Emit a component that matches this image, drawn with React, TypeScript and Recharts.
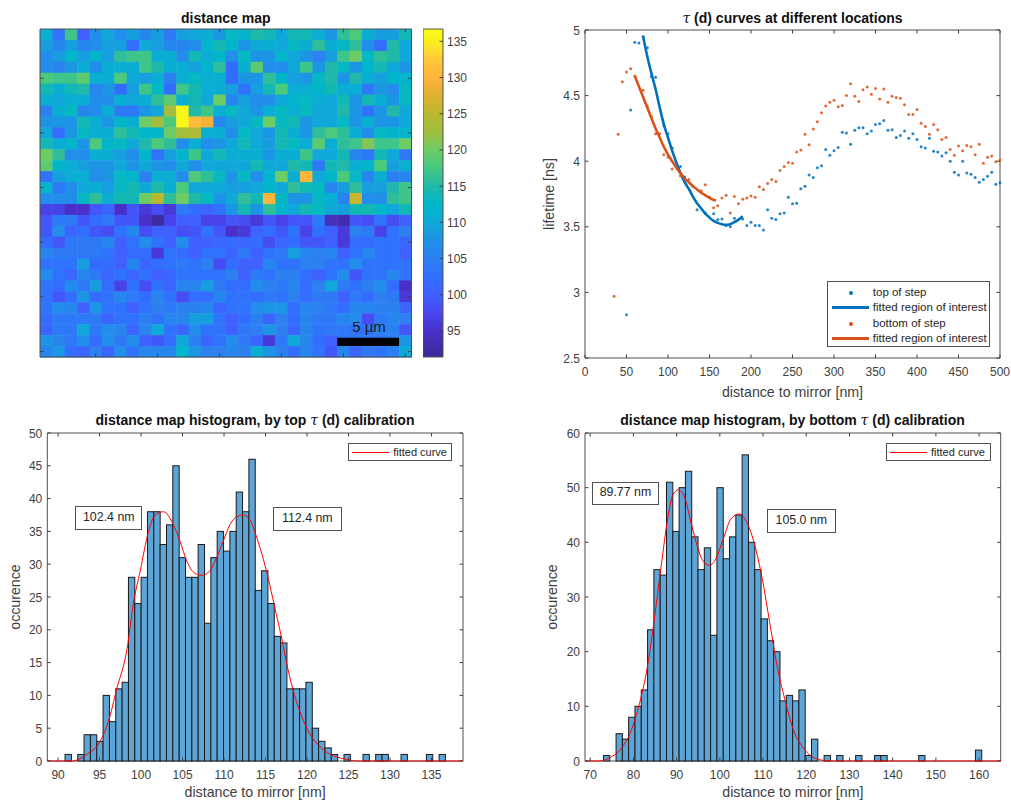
import React from 'react';
import { ComposedChart, ScatterChart, Scatter, Bar, Line, XAxis, YAxis, ReferenceArea } from 'recharts';

// distance map, one row per line of pixels, top to bottom
const mapRows = [
  [111,103,117,100,107,110,107,109,106,109,104,109,110,111,108,113,112,115,114,110,114,114,111,108,116,118,111,109,109,114],
  [109,106,109,106,107,109,109,102,110,109,106,106,107,112,114,112,108,110,111,110,113,111,116,111,113,116,107,102,115,110],
  [107,109,112,109,112,109,116,117,117,111,111,107,114,111,112,107,113,108,108,112,110,108,105,109,117,120,113,116,115,110],
  [107,106,108,111,107,111,111,111,117,115,111,111,109,112,116,102,111,119,107,107,110,117,108,115,113,108,112,114,110,108],
  [118,117,117,119,111,111,118,110,109,111,105,111,113,111,111,102,108,108,116,112,109,108,113,115,108,115,111,109,112,112],
  [114,111,114,115,106,108,102,109,117,113,102,117,114,111,111,109,103,109,114,118,111,111,112,114,111,111,104,108,107,113],
  [111,110,111,111,107,107,111,110,111,116,119,111,114,110,120,106,109,107,107,110,112,113,111,110,114,108,114,111,108,113],
  [105,111,113,106,107,111,104,104,108,110,123,136,115,117,111,113,110,108,111,113,111,113,110,110,115,108,103,108,115,110],
  [108,108,108,114,111,108,112,111,120,123,118,136,131,129,106,109,110,113,120,113,114,108,110,110,113,108,111,108,108,110],
  [110,102,108,113,111,111,116,114,112,112,120,123,124,111,111,107,113,110,108,114,111,108,116,118,116,111,107,113,112,112],
  [114,111,112,108,118,112,113,110,115,118,116,107,111,107,108,110,114,110,109,114,113,111,119,111,116,117,121,117,117,120],
  [120,116,107,107,111,111,109,107,112,103,109,112,117,110,114,111,111,111,108,111,111,117,110,110,114,106,104,114,110,104],
  [119,112,111,109,108,108,110,108,110,108,107,110,107,110,110,110,110,114,110,110,115,114,104,114,115,111,112,118,109,111],
  [103,109,111,111,107,108,113,112,105,111,111,107,118,116,113,108,113,107,112,120,111,130,110,112,118,113,106,111,105,106],
  [112,104,107,110,111,109,113,114,110,115,111,118,110,110,110,109,109,110,112,110,116,114,113,106,109,116,109,109,115,117],
  [107,107,107,113,116,111,114,114,120,125,116,120,115,113,108,110,116,114,130,113,108,108,113,111,106,126,107,107,116,117],
  [97,97,95,95,99,101,95,99,96,98,96,104,102,101,103,108,114,108,116,112,110,114,113,110,109,114,114,112,110,114],
  [99,104,104,99,102,104,99,99,95,92,97,100,100,97,97,99,98,96,99,97,99,99,104,94,93,99,98,103,98,100],
  [99,107,101,102,99,98,103,106,98,100,100,98,99,103,99,95,96,101,102,99,103,97,103,100,96,105,104,97,103,105],
  [102,99,104,104,104,106,100,103,107,103,100,107,100,100,101,102,101,102,98,101,102,99,99,100,96,102,102,103,103,101],
  [106,104,104,104,104,103,100,102,102,96,103,102,100,103,103,101,104,100,103,104,109,106,105,106,100,103,106,103,103,100],
  [103,103,103,109,102,102,100,106,101,102,103,104,103,105,98,102,100,100,106,103,103,105,105,103,103,107,103,103,103,103],
  [107,103,101,106,104,101,103,101,103,100,101,103,103,103,103,105,100,104,103,105,105,102,100,103,107,99,103,103,106,103],
  [103,102,107,104,109,102,97,103,98,103,101,106,106,109,104,102,102,107,105,104,106,102,105,110,104,103,105,107,102,95],
  [103,99,102,108,102,103,106,104,102,106,103,98,102,102,106,103,103,102,104,103,105,102,104,104,100,104,102,105,104,96],
  [103,107,106,100,108,103,103,100,103,105,104,105,105,106,101,103,103,107,108,108,102,106,105,104,102,106,106,105,105,101],
  [102,104,104,104,104,101,103,103,105,103,106,106,109,109,103,100,102,105,101,105,102,106,104,104,106,107,98,104,106,105],
  [101,104,104,110,104,107,106,101,106,110,103,101,107,103,103,100,104,105,108,105,101,106,103,104,104,103,103,105,105,99],
  [108,106,104,107,102,107,104,107,100,99,102,110,105,101,103,107,104,101,96,104,110,106,102,100,103,103,104,103,104,108],
  [106,108,102,101,105,101,107,103,106,106,106,112,108,105,105,106,105,111,108,105,102,106,103,99,106,101,104,103,105,110],
];

// colormap
const colorLevels = [91.4, 95, 97.5, 100, 102.5, 105, 107.5, 110, 112.5, 115, 117.5, 120, 122.5, 125, 127.5, 130, 132.5, 135, 136.7];
const colorHex = ['#3c2b98', '#4830c8', '#4848f0', '#4060ff', '#3070ff', '#2c80f0', '#2090e8', '#10a8d8', '#00b8c8', '#20b8a8', '#45c882', '#6ecc64', '#a0be40', '#b9b92f', '#e0b030', '#ffb43c', '#ffc83a', '#f8f01e', '#f9fb15'];
const colorbarTicks = [95, 100, 105, 110, 115, 120, 125, 130, 135];
const mapTicks = [5, 10, 15, 20, 25, 30];

// lifetime curves
const topX = [50,55,60,65,70,75,80,85,95,100,105,115,120,135,145,155,160,165,170,175,180,190,195,200,205,210,215,220,225,230,235,240,245,250,255,260,265,270,275,280,285,290,295,300,305,310,315,320,325,330,335,340,345,350,355,360,365,370,375,380,385,390,395,400,405,410,415,420,425,430,435,440,445,450,455,460,465,470,475,480,485,490,495,500];
const topY = [2.83,4.39,4.906,4.9,4.95,4.865,4.645,4.64,4.27,4.21,4.1,3.96,3.88,3.63,3.605,3.6,3.555,3.56,3.51,3.5,3.565,3.56,3.51,3.535,3.51,3.51,3.475,3.63,3.565,3.555,3.6,3.605,3.725,3.675,3.68,3.79,3.81,3.895,3.875,3.95,3.965,4.09,4.045,4.08,4.105,4.22,4.215,4.13,4.235,4.255,4.255,4.21,4.23,4.28,4.285,4.31,4.235,4.24,4.18,4.195,4.23,4.175,4.21,4.165,4.11,4.1,4.175,4.075,4.07,4.04,4.065,4,3.915,3.895,4,3.91,3.9,3.875,3.84,3.86,3.885,3.915,3.825,3.835];
const bottomX = [35,40,45,50,55,60,70,75,80,85,90,95,100,105,115,120,125,130,140,145,150,155,160,165,170,175,180,185,190,195,200,205,210,215,220,225,230,235,240,245,250,255,260,265,270,275,280,285,290,295,300,305,310,315,320,325,330,335,340,345,350,355,360,365,370,375,380,385,390,395,400,405,410,415,420,425,430,435,440,445,450,455,460,465,470,475,480,485,490,495,500];
const bottomY = [2.97,4.205,4.605,4.68,4.705,4.65,4.54,4.42,4.34,4.21,4.21,4.05,4.03,3.94,3.89,3.87,3.86,3.81,3.775,3.82,3.725,3.645,3.66,3.72,3.74,3.605,3.73,3.675,3.71,3.72,3.735,3.725,3.805,3.785,3.83,3.86,3.845,3.93,3.96,3.99,3.985,4.07,4.085,4.205,4.125,4.245,4.3,4.37,4.42,4.45,4.465,4.415,4.425,4.5,4.59,4.495,4.455,4.545,4.565,4.51,4.555,4.475,4.55,4.45,4.495,4.485,4.48,4.43,4.355,4.355,4.395,4.29,4.265,4.205,4.28,4.24,4.165,4.18,4.09,4.045,4.115,4.08,4.12,4.11,4.05,4.13,3.985,4.03,4.04,3.995,4.01];
const topFitX = [70,75,80,85,90,95,100,105,110,115,120,125,130,135,140,145,150,155,160,165,170,175,180,185,190];
const topFitY = [4.95,4.8,4.67,4.55,4.41,4.28,4.18,4.08,3.99,3.91,3.84,3.79,3.73,3.68,3.64,3.6,3.57,3.545,3.53,3.52,3.515,3.52,3.535,3.555,3.58];
const bottomFitX = [60,65,70,75,80,85,90,95,100,105,110,115,120,125,130,135,140,145,150,155,158];
const bottomFitY = [4.65,4.57,4.49,4.41,4.33,4.25,4.18,4.11,4.05,4,3.95,3.91,3.87,3.84,3.81,3.785,3.76,3.74,3.72,3.705,3.7];
const curveXTicks = [0,50,100,150,200,250,300,350,400,450,500];
const curveYTicks = [2.5,3,3.5,4,4.5,5];
const curveLegend = ['top of step', 'fitted region of interest', 'bottom of step', 'fitted region of interest'];

// histograms (60 bins each)
const hist1Start = 90.84;
const hist1Bin = 0.764;
const hist1Counts = [1,0,1,4,4,3,10,6,11,12,28,24,28,38,38,33,36,45,31,28,28,33,21,31,35,32,35,41,38,46,26,29,24,19,18,11,11,11,12,5,3,2,1,0,1,0,0,1,0,1,1,0,0,1,0,0,0,1,0,1];
const hist1FitX = [88.7,91.7,93.45,95.06,96.06,97.07,98.3,99.07,99.9,100.9,101.7,102.7,103.9,104.7,105.5,106.5,107.3,108.3,109.1,109.9,110.7,111.5,112.3,113.1,113.8,115.3,116.1,116.9,117.7,118.5,119.3,120.3,121.4,122.8,124.4,126,138.8];
const hist1FitY = [0,0,1,3,6,11,17,24,29,35,37.5,38,36,33.5,30.5,28.6,28.3,29,31,33.5,36,37.2,37.5,36.8,34.6,28,23.5,19,14,10,7,4.2,2.4,1,0.35,0,0];
const hist1XTicks = [90,95,100,105,110,115,120,125,130,135];
const hist1YTicks = [0,5,10,15,20,25,30,35,40,45,50];

const hist2Start = 73.07;
const hist2Bin = 1.459;
const hist2Counts = [1,0,5,4,8,10,13,24,35,34,51,42,50,53,41,35,39,23,50,37,41,45,56,40,35,26,22,20,11,12,11,13,1,4,0,1,0,1,0,0,1,0,0,1,1,0,0,0,0,0,1,0,0,0,0,0,0,0,0,2];
const hist2FitX = [68.8,72,74.5,77.2,79.5,81.4,83.1,84.9,86.4,88,89.1,90.4,91.8,93.4,94.9,96,97.6,99.1,100.7,102.6,104.5,106.4,108.4,109.9,111.5,113.4,115.3,116.8,119.1,121.5,124.2,126.8,165];
const hist2FitY = [0,0,0.6,2.3,5.6,10.5,16.6,26.3,35.5,44.6,48.6,49.6,48.3,43.4,39,36.7,35.8,37,40.4,44.3,45.2,43.4,38.5,33,25.5,16.8,10.5,6.2,2.6,0.7,0.1,0,0];
const hist2XTicks = [70,80,90,100,110,120,130,140,150,160];
const hist2YTicks = [0,10,20,30,40,50,60];

const FONT = '"Liberation Sans", Arial, sans-serif';
const INK = '#404040';
const BOX = '#505050';
const BLUE = '#0072bd';
const ORANGE = '#d95319';
const BAR = '#5da5d6';
const TICK = 3.5;

const heatCells = mapRows.flatMap((row, r) => row.map((value, c) => ({ col: c + 1, line: r + 1, value })));
const curveRows = (xs: number[], ys: number[]) => xs.map((x, i) => ({ x, y: ys[i] }));
const binRows = (start: number, bin: number, counts: number[]) => counts.map((count, i) => ({ x: start + bin * (i + 0.5), count }));

function mapColor(v: number) {
  let i = 0;
  while (i < colorLevels.length - 2 && v > colorLevels[i + 1]) i++;
  const t = Math.min(1, Math.max(0, (v - colorLevels[i]) / (colorLevels[i + 1] - colorLevels[i])));
  const ch = (hex: string, at: number) => parseInt(hex.slice(at, at + 2), 16);
  const mix = (at: number) => Math.round(ch(colorHex[i], at) + (ch(colorHex[i + 1], at) - ch(colorHex[i], at)) * t);
  return `rgb(${mix(1)},${mix(3)},${mix(5)})`;
}

// MATLAB style: ticks point inward on all four sides of the box
const xTicks = (plotH: number, labels = true) => ({ x, y, payload }: any) => (
  <g>
    <line x1={x} x2={x} y1={y} y2={y - TICK} stroke={INK} />
    <line x1={x} x2={x} y1={y - plotH} y2={y - plotH + TICK} stroke={INK} />
    {labels && <text x={x} y={y + 18} textAnchor="middle" fontSize={12} fontFamily={FONT} fill={INK}>{payload.value}</text>}
  </g>
);
const yTicks = (plotW: number, labels = true) => ({ x, y, payload }: any) => (
  <g>
    <line x1={x} x2={x + TICK} y1={y} y2={y} stroke={INK} />
    <line x1={x + plotW} x2={x + plotW - TICK} y1={y} y2={y} stroke={INK} />
    {labels && <text x={x - 5} y={y + 4.5} textAnchor="end" fontSize={12} fontFamily={FONT} fill={INK}>{payload.value}</text>}
  </g>
);
const colorbarTick = ({ x, y, payload }: any) => (
  <g>
    <line x1={x} x2={x - TICK} y1={y} y2={y} stroke={INK} />
    <text x={x + 4} y={y + 4.5} fontSize={12} fontFamily={FONT} fill={INK}>{payload.value}</text>
  </g>
);
const histBar = (w: number) => (p: any) =>
  p.payload.count > 0 ? <rect x={p.x + p.width / 2 - w / 2} y={p.y} width={w} height={p.height} fill={BAR} stroke="#1a1a1a" strokeWidth={1} /> : <g />;
const xLabel = { value: 'distance to mirror [nm]', position: 'insideBottom' as const, offset: 3, style: { fontSize: 14.2, fontFamily: FONT, fill: INK } };
const yLabel = (value: string, offset: number) => ({ value, angle: -90, position: 'insideLeft' as const, offset, style: { fontSize: 14.2, fontFamily: FONT, fill: INK, textAnchor: 'middle' } });

const Tau = () => <span style={{ fontFamily: '"DejaVu Serif", serif', fontStyle: 'italic', fontWeight: 400 }}>τ</span>;

const Title = ({ cx, y, children }: any) => (
  <div style={{ position: 'absolute', left: cx - 250, top: y - 9, width: 500, textAlign: 'center', font: `bold 14px/18px ${FONT}`, color: '#111', whiteSpace: 'nowrap' }}>{children}</div>
);
const Note = ({ left, top, right, bottom, children }: any) => (
  <div style={{ position: 'absolute', left, top, width: right - left, height: bottom - top, boxSizing: 'border-box', background: '#fff', border: `1.4px solid ${BOX}`, textAlign: 'center', font: `12.4px/${bottom - top - 3}px ${FONT}`, color: '#262626' }}>{children}</div>
);
const FitLegend = ({ left, top, right, bottom }: any) => (
  <div style={{ position: 'absolute', left, top, width: right - left, height: bottom - top, boxSizing: 'border-box', background: '#fff', border: `1px solid ${BOX}`, font: `11px/${bottom - top - 2}px ${FONT}`, color: '#262626' }}>
    <span style={{ position: 'absolute', left: 3.5, top: 8, width: 37, height: 1, background: '#f00' }} />
    <span style={{ position: 'absolute', left: 44.5, top: 0 }}>fitted curve</span>
  </div>
);

const curveLegendColors = [BLUE, BLUE, ORANGE, ORANGE];

export default function App() {
  return (
    <div style={{ position: 'absolute', left: 0, top: 0, width: 1011, height: 800, background: '#fff', overflow: 'hidden' }}>
      {/* distance map */}
      <div style={{ position: 'absolute', left: 0, top: 20 }}>
        <ScatterChart width={420} height={345} margin={{ top: 9, right: 8.5, left: 0, bottom: 0 }}>
          <XAxis type="number" dataKey="col" domain={[0.5, 30.5]} ticks={mapTicks} interval={0} height={8} axisLine={false} tickLine={false} tick={false} />
          <YAxis type="number" dataKey="line" domain={[0.5, 30.5]} reversed ticks={mapTicks} interval={0} width={40} axisLine={false} tickLine={false} tick={false} />
          <Scatter data={heatCells} isAnimationActive={false} shape={(p: any) => (
            <rect x={p.cx - 6.19} y={p.cy - 5.47} width={12.9} height={11.45} fill={mapColor(p.payload.value)} />
          )} />
        </ScatterChart>
      </div>
      {/* box, ticks and scale bar go in a second chart on top of the cells */}
      <div style={{ position: 'absolute', left: 0, top: 20 }}>
        <ComposedChart width={420} height={345} data={mapTicks.map((tick) => ({ tick }))} margin={{ top: 9, right: 8.5, left: 0, bottom: 0 }}>
          <XAxis type="number" dataKey="tick" domain={[0.5, 30.5]} ticks={mapTicks} interval={0} height={8} axisLine={false} tickLine={false} tickSize={0} tickMargin={0} tick={xTicks(328, false)} />
          <YAxis type="number" domain={[0.5, 30.5]} reversed ticks={mapTicks} interval={0} width={40} axisLine={false} tickLine={false} tickSize={0} tickMargin={0} tick={yTicks(371.5, false)} />
          <Line dataKey="tick" stroke="none" dot={false} isAnimationActive={false} />
          <ReferenceArea x1={24.5} x2={29.5} y1={28.75} y2={29.5} fill="#000" fillOpacity={1} stroke="none" />
          <ReferenceArea x1={0.5} x2={30.5} y1={0.5} y2={30.5} fill="none" stroke={BOX} />
        </ComposedChart>
      </div>
      <div style={{ position: 'absolute', left: 345, top: 318, width: 48, textAlign: 'center', font: `15px/18px ${FONT}`, color: '#1a1a1a' }}>5 µm</div>

      {/* colorbar */}
      <div style={{ position: 'absolute', left: 423.3, top: 20 }}>
        <ComposedChart width={60} height={345} data={colorLevels.map((level) => ({ level }))} margin={{ top: 9, right: 0, left: 0, bottom: 8 }}>
          <defs>
            <linearGradient id="mapGradient" x1="0" y1="1" x2="0" y2="0">
              {colorLevels.map((level, i) => (
                <stop key={level} offset={(level - colorLevels[0]) / (136.7 - colorLevels[0])} stopColor={colorHex[i]} />
              ))}
            </linearGradient>
          </defs>
          <XAxis hide dataKey="level" type="category" />
          <YAxis orientation="right" domain={[91.4, 136.7]} ticks={colorbarTicks} interval={0} width={40} axisLine={false} tickLine={false} tickSize={0} tickMargin={0} tick={colorbarTick} />
          <Line dataKey="level" stroke="none" dot={false} isAnimationActive={false} />
          <ReferenceArea y1={91.4} y2={136.7} fill="url(#mapGradient)" fillOpacity={1} stroke={BOX} />
        </ComposedChart>
      </div>

      {/* lifetime curves */}
      <div style={{ position: 'absolute', left: 540, top: 20 }}>
        <ComposedChart width={470} height={380} margin={{ top: 10, right: 10, left: 0, bottom: 0 }}>
          <XAxis type="number" dataKey="x" domain={[0, 500]} ticks={curveXTicks} interval={0} height={42} axisLine={false} tickLine={false} tickSize={0} tickMargin={0} tick={xTicks(328)} label={xLabel} />
          <YAxis type="number" dataKey="y" domain={[2.5, 5]} ticks={curveYTicks} interval={0} width={45} axisLine={false} tickLine={false} tickSize={0} tickMargin={0} tick={yTicks(415)} label={yLabel('lifetime [ns]', 9)} />
          <Scatter data={curveRows(topX, topY)} isAnimationActive={false} shape={(p: any) => <circle cx={p.cx} cy={p.cy} r={1.5} fill={BLUE} fillOpacity={0.85} />} />
          <Line data={curveRows(topFitX, topFitY)} dataKey="y" stroke={BLUE} strokeWidth={2.6} dot={false} type="monotone" isAnimationActive={false} />
          <Scatter data={curveRows(bottomX, bottomY)} isAnimationActive={false} shape={(p: any) => <circle cx={p.cx} cy={p.cy} r={1.5} fill={ORANGE} fillOpacity={0.85} />} />
          <Line data={curveRows(bottomFitX, bottomFitY)} dataKey="y" stroke={ORANGE} strokeWidth={2.6} dot={false} type="monotone" isAnimationActive={false} />
          <ReferenceArea x1={0} x2={500} y1={2.5} y2={5} fill="none" stroke={BOX} />
        </ComposedChart>
      </div>
      <div style={{ position: 'absolute', left: 827.3, top: 281.3, width: 163, height: 65.5, boxSizing: 'border-box', background: '#fff', border: `1px solid ${BOX}` }}>
        {curveLegend.map((name, i) => (
          <div key={i} style={{ position: 'absolute', left: 0, top: Math.round(2.5 + i * 15.6), height: 15, width: '100%' }}>
            {i % 2 === 0
              ? <span style={{ position: 'absolute', left: 21, top: 6, width: 3.4, height: 3.4, borderRadius: 2, background: curveLegendColors[i] }} />
              : <span style={{ position: 'absolute', left: 4, top: 6, width: 37, height: 3, background: curveLegendColors[i] }} />}
            <span style={{ position: 'absolute', left: 44.5, top: 0, font: `11.5px/15px ${FONT}`, color: '#262626', whiteSpace: 'nowrap' }}>{name}</span>
          </div>
        ))}
      </div>

      {/* histogram, top calibration */}
      <div style={{ position: 'absolute', left: 0, top: 425 }}>
        <ComposedChart width={473} height={375} data={binRows(hist1Start, hist1Bin, hist1Counts)} margin={{ top: 8, right: 10, left: 0, bottom: 0 }}>
          <XAxis type="number" dataKey="x" domain={[88.7, 138.8]} ticks={hist1XTicks} interval={0} height={39} axisLine={false} tickLine={false} tickSize={0} tickMargin={0} tick={xTicks(328)} label={xLabel} />
          <YAxis type="number" domain={[0, 50]} ticks={hist1YTicks} interval={0} width={47.3} axisLine={false} tickLine={false} tickSize={0} tickMargin={0} tick={yTicks(415.7)} label={yLabel('occurence', 15)} />
          <Bar dataKey="count" shape={histBar(6.35)} isAnimationActive={false} />
          <Line data={curveRows(hist1FitX, hist1FitY)} dataKey="y" stroke="#f00" strokeWidth={1} dot={false} type="monotone" isAnimationActive={false} />
          <ReferenceArea x1={88.7} x2={138.8} y1={0} y2={50} fill="none" stroke={BOX} />
        </ComposedChart>
      </div>
      <FitLegend left={347.7} top={442.7} right={452.3} bottom={461} />
      <Note left={75.3} top={505.7} right={142.3} bottom={529.7}>102.4 nm</Note>
      <Note left={272.7} top={506.7} right={342} bottom={530.7}>112.4 nm</Note>

      {/* histogram, bottom calibration */}
      <div style={{ position: 'absolute', left: 540, top: 425 }}>
        <ComposedChart width={471} height={375} data={binRows(hist2Start, hist2Bin, hist2Counts)} margin={{ top: 8, right: 10.3, left: 0, bottom: 0 }}>
          <XAxis type="number" dataKey="x" domain={[68.8, 165]} ticks={hist2XTicks} interval={0} height={39} axisLine={false} tickLine={false} tickSize={0} tickMargin={0} tick={xTicks(328)} label={xLabel} />
          <YAxis type="number" domain={[0, 60]} ticks={hist2YTicks} interval={0} width={45} axisLine={false} tickLine={false} tickSize={0} tickMargin={0} tick={yTicks(415.7)} label={yLabel('occurence', 12)} />
          <Bar dataKey="count" shape={histBar(6.32)} isAnimationActive={false} />
          <Line data={curveRows(hist2FitX, hist2FitY)} dataKey="y" stroke="#f00" strokeWidth={1} dot={false} type="monotone" isAnimationActive={false} />
          <ReferenceArea x1={68.8} x2={165} y1={0} y2={60} fill="none" stroke={BOX} />
        </ComposedChart>
      </div>
      <FitLegend left={885.5} top={442.7} right={990.5} bottom={461} />
      <Note left={591.7} top={482.3} right={659.3} bottom={505}>89.77 nm</Note>
      <Note left={766.7} top={508.7} right={836} bottom={533.3}>105.0 nm</Note>

      <Title cx={225.8} y={18}>distance map</Title>
      <Title cx={792.5} y={18}><Tau /> (d) curves at different locations</Title>
      <Title cx={255} y={420}>distance map histogram, by top <Tau /> (d) calibration</Title>
      <Title cx={792.5} y={420}>distance map histogram, by bottom <Tau /> (d) calibration</Title>
    </div>
  );
}
